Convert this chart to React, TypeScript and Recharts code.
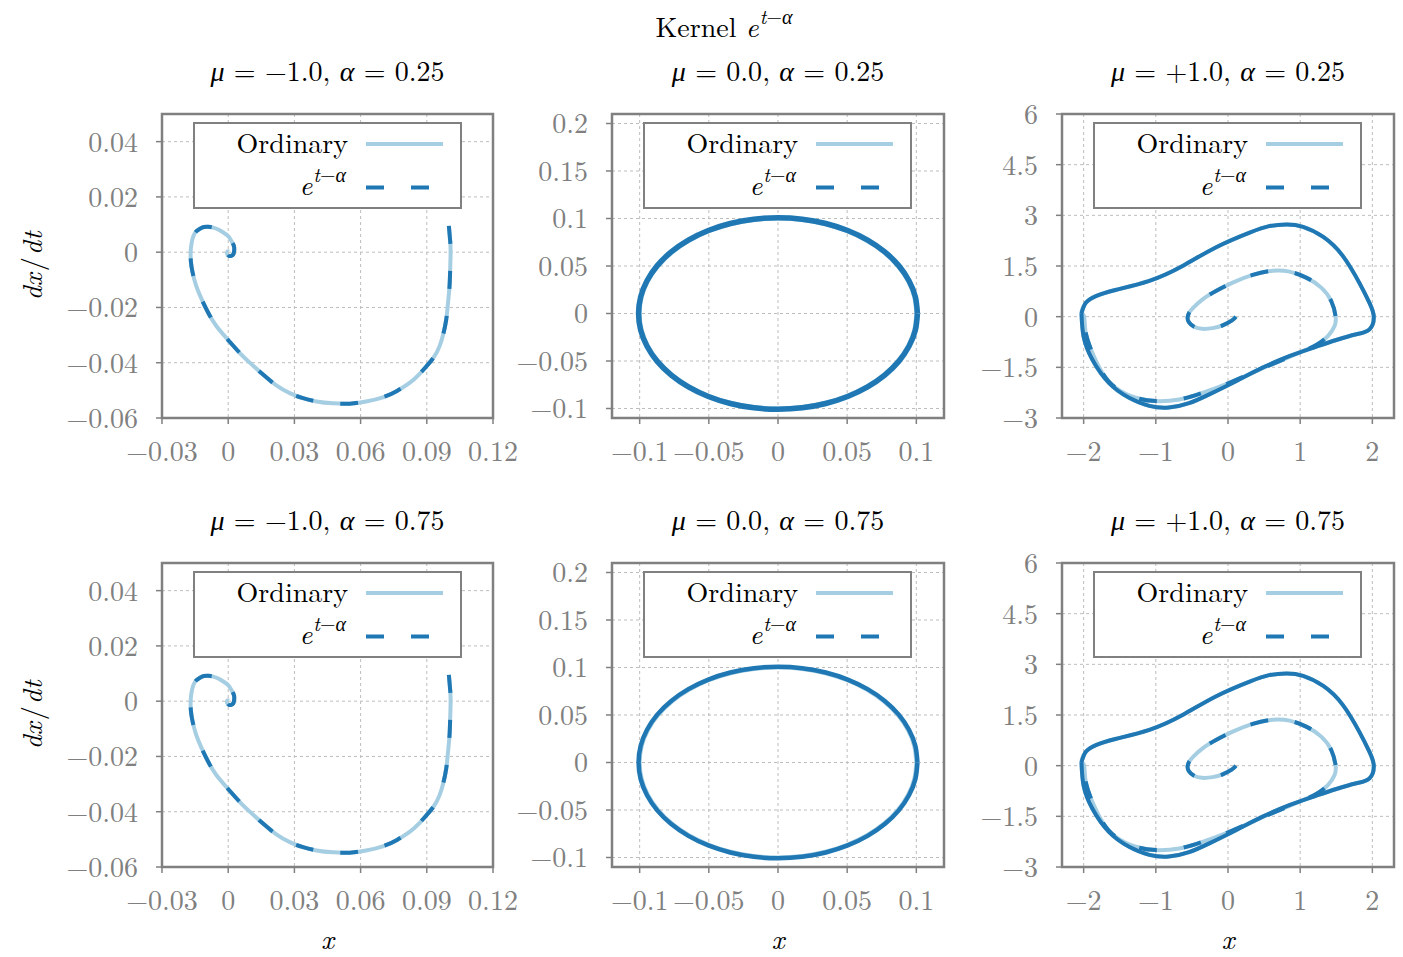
import { LineChart, Line, XAxis, YAxis, CartesianGrid, ReferenceArea } from 'recharts'

const LIGHT = '#a6cee3'
const DARK = '#1f78b4'
const GRAY = '#808080'
const FONT = '"Latin Modern Roman", "CMU Serif", "Liberation Serif", serif'

type Pt = [number, number]

// tick values per column
const p1XTicks = [-0.03, 0, 0.03, 0.06, 0.09, 0.12]
const p1YTicks = [-0.06, -0.04, -0.02, 0, 0.02, 0.04]
const p2XTicks = [-0.1, -0.05, 0, 0.05, 0.1]
const p2YTicks = [-0.1, -0.05, 0, 0.05, 0.1, 0.15, 0.2]
const p3XTicks = [-2, -1, 0, 1, 2]
const p3YTicks = [-3, -1.5, 0, 1.5, 3, 4.5, 6]

const muLabels = ['−1.0', '0.0', '+1.0']
const alphaLabels = ['0.25', '0.75']

// mu = -1: damped spiral into the origin (both curves overlap)
const dampedPath: Pt[] = [
  [0.1, 0.0095], [0.1006, 0.004], [0.1008, -0.0002], [0.1006, -0.006], [0.1003, -0.0123],
  [0.0996, -0.0185], [0.0988, -0.0244], [0.0975, -0.0295], [0.0958, -0.034], [0.0932, -0.038],
  [0.0898, -0.0413], [0.0862, -0.0445], [0.0822, -0.0473], [0.0765, -0.0502], [0.0701, -0.0525],
  [0.0625, -0.054], [0.0551, -0.0548], [0.0475, -0.0547], [0.04, -0.054], [0.0339, -0.0528],
  [0.0279, -0.051], [0.0215, -0.048], [0.0158, -0.0443], [0.0105, -0.0405], [0.0053, -0.0365],
  [0.0, -0.0318], [-0.0053, -0.0268], [-0.009, -0.022], [-0.012, -0.0171], [-0.0145, -0.0122],
  [-0.0161, -0.0075], [-0.0169, -0.0035], [-0.017, 0.0004], [-0.0166, 0.0032], [-0.0158, 0.0058],
  [-0.0145, 0.0075], [-0.0128, 0.0085], [-0.011, 0.0091], [-0.009, 0.0092], [-0.0068, 0.0089],
  [-0.0045, 0.0082], [-0.0022, 0.0071], [0.0, 0.0058], [0.0015, 0.004], [0.0026, 0.0022],
  [0.0027, 0.0005], [0.0023, -0.0008], [0.0014, -0.0013], [0.0005, -0.0014], [-0.0003, -0.0009],
  [-0.0006, -0.0002], [-0.0002, 0.0003], [0.0002, 0.0002],
]

// mu = 0: closed orbit
const orbitOrdinary: Pt[] = [
  [0.1, 0], [0.0985, -0.0174], [0.094, -0.0342], [0.0866, -0.05], [0.0766, -0.0643], [0.0643, -0.0766],
  [0.05, -0.0866], [0.0342, -0.094], [0.0174, -0.0985], [0, -0.1], [-0.0174, -0.0985], [-0.0342, -0.094],
  [-0.05, -0.0866], [-0.0643, -0.0766], [-0.0766, -0.0643], [-0.0866, -0.05], [-0.094, -0.0342], [-0.0985, -0.0174],
  [-0.1, 0], [-0.0985, 0.0174], [-0.094, 0.0342], [-0.0866, 0.05], [-0.0766, 0.0643], [-0.0643, 0.0766],
  [-0.05, 0.0866], [-0.0342, 0.094], [-0.0174, 0.0985], [0, 0.1], [0.0174, 0.0985], [0.0342, 0.094],
  [0.05, 0.0866], [0.0643, 0.0766], [0.0766, 0.0643], [0.0866, 0.05], [0.094, 0.0342], [0.0985, 0.0174],
  [0.1, 0],
]
const orbitKernel: Pt[] = [
  [0.1008, 0], [0.0993, -0.0175], [0.0947, -0.0345], [0.0873, -0.0504], [0.0772, -0.0648], [0.0648, -0.0772],
  [0.0504, -0.0873], [0.0345, -0.0947], [0.0175, -0.0993], [0, -0.1008], [-0.0175, -0.0993], [-0.0345, -0.0947],
  [-0.0504, -0.0873], [-0.0648, -0.0772], [-0.0772, -0.0648], [-0.0873, -0.0504], [-0.0947, -0.0345], [-0.0993, -0.0175],
  [-0.1008, 0], [-0.0993, 0.0175], [-0.0947, 0.0345], [-0.0873, 0.0504], [-0.0772, 0.0648], [-0.0648, 0.0772],
  [-0.0504, 0.0873], [-0.0345, 0.0947], [-0.0175, 0.0993], [0, 0.1008], [0.0175, 0.0993], [0.0345, 0.0947],
  [0.0504, 0.0873], [0.0648, 0.0772], [0.0772, 0.0648], [0.0873, 0.0504], [0.0947, 0.0345], [0.0993, 0.0175],
  [0.1008, 0],
]

// mu = +1: spiral out of the origin, then the limit cycle
const vdpSpiral: Pt[] = [
  [0.11, 0.0], [0.05, -0.12], [-0.074, -0.257], [-0.213, -0.34], [-0.36, -0.36], [-0.47, -0.3],
  [-0.54, -0.17], [-0.56, -0.02], [-0.535, 0.13], [-0.48, 0.27], [-0.352, 0.514], [-0.167, 0.761],
  [0.065, 1.008], [0.343, 1.235], [0.62, 1.36], [0.852, 1.334], [1.083, 1.156], [1.292, 0.86],
  [1.43, 0.464], [1.49, 0.02], [1.477, -0.277], [1.384, -0.573], [1.222, -0.84], [0.99, -1.067],
  [0.713, -1.314], [0.389, -1.611], [0.019, -1.957], [-0.352, -2.253], [-0.676, -2.451], [-1.0, -2.5],
  [-1.278, -2.4], [-1.556, -2.105], [-1.741, -1.66], [-1.88, -1.067], [-1.972, -0.474], [-1.995, 0.02],
]
const vdpCycle: Pt[] = [
  [-2.03, 0.1], [-1.97, 0.41], [-1.83, 0.61], [-1.56, 0.79], [-1.09, 1.06], [-0.63, 1.5],
  [-0.17, 2.05], [0.3, 2.49], [0.57, 2.68], [0.81, 2.73], [1.04, 2.66], [1.32, 2.36],
  [1.59, 1.8], [1.82, 1.0], [1.96, 0.41], [2.02, 0.0], [1.96, -0.375], [1.78, -0.52],
  [1.5, -0.69], [1.18, -0.92], [0.85, -1.17], [0.48, -1.51], [0.11, -1.91], [-0.26, -2.3],
  [-0.54, -2.56], [-0.82, -2.69], [-1.09, -2.64], [-1.37, -2.4], [-1.65, -1.96], [-1.88, -1.27],
  [-2.0, -0.6], [-2.03, 0.1],
]

const toPts = (a: Pt[]) => a.map(([x, y]) => ({ x, y }))
const fmt = (v: number) => (v < 0 ? '−' + String(-v) : String(v))

const colLeft = [162, 612, 1062]
const colWidth = [331, 332, 332]
const rowTop = [114, 563]
const PLOT_H = 304
const AXIS_W = 160
const AXIS_H = 60
const PAD_T = 30
const PAD_R = 40

interface Series {
  pts: Pt[]
  color: string
  dash?: string
  width?: number
}

interface PanelProps {
  col: number
  row: number
  xDomain: [number, number]
  yDomain: [number, number]
  xTicks: number[]
  yTicks: number[]
  series: Series[]
}

const textStyle = { fontFamily: FONT, fontSize: 28, lineHeight: '32px', color: '#000', whiteSpace: 'nowrap' as const }

function Expo({ size }: { size: number }) {
  return (
    <>
      <i>e</i>
      <span style={{ fontSize: size, position: 'relative', top: -13, marginLeft: 1 }}>
        <i>t</i>−<i>α</i>
      </span>
    </>
  )
}

function PanelLegend({ left, top }: { left: number; top: number }) {
  return (
    <div
      style={{
        position: 'absolute', left, top, width: 269, height: 87, boxSizing: 'border-box',
        border: `2.5px solid ${GRAY}`, background: '#fff',
      }}
    >
      <div style={{ ...textStyle, position: 'absolute', right: 112, top: 1 }}>Ordinary</div>
      <div style={{ ...textStyle, position: 'absolute', right: 114, top: 43 }}>
        <Expo size={20} />
      </div>
      <svg style={{ position: 'absolute', left: 171, top: 0 }} width={82} height={82}>
        <line x1={0} x2={77} y1={20} y2={20} stroke={LIGHT} strokeWidth={4} />
        <line x1={0} x2={77} y1={63.5} y2={63.5} stroke={DARK} strokeWidth={4} strokeDasharray="18 27" />
      </svg>
    </div>
  )
}

function Panel({ col, row, xDomain, yDomain, xTicks, yTicks, series }: PanelProps) {
  const left = colLeft[col]
  const top = rowTop[row]
  const w = colWidth[col]
  const tick = { fill: GRAY, fontSize: 28, fontFamily: FONT }
  return (
    <>
      <div style={{ position: 'absolute', left: left - AXIS_W, top: top - PAD_T }}>
        <LineChart
          width={AXIS_W + w + PAD_R}
          height={PAD_T + PLOT_H + AXIS_H}
          margin={{ top: PAD_T, right: PAD_R, bottom: 0, left: 0 }}
        >
          <CartesianGrid stroke="#bdbdbd" strokeDasharray="3 3" />
          <XAxis
            dataKey="x"
            type="number"
            domain={xDomain}
            ticks={xTicks}
            allowDataOverflow
            tickFormatter={fmt}
            tick={tick}
            axisLine={false}
            tickLine={{ stroke: GRAY, strokeWidth: 1.5 }}
            tickSize={6}
            tickMargin={17}
            height={AXIS_H}
            interval={0}
          />
          <YAxis
            dataKey="y"
            type="number"
            domain={yDomain}
            ticks={yTicks}
            allowDataOverflow
            tickFormatter={fmt}
            tick={tick}
            axisLine={false}
            tickLine={{ stroke: GRAY, strokeWidth: 1.5 }}
            tickSize={6}
            tickMargin={18}
            width={AXIS_W}
            interval={0}
          />
          {series.map((s, i) => (
            <Line
              key={i}
              data={toPts(s.pts)}
              dataKey="y"
              type="natural"
              stroke={s.color}
              strokeWidth={s.width ?? 4}
              strokeDasharray={s.dash}
              strokeLinejoin="round"
              dot={false}
              activeDot={false}
              legendType="none"
              isAnimationActive={false}
            />
          ))}
          <ReferenceArea
            x1={xDomain[0]}
            x2={xDomain[1]}
            y1={yDomain[0]}
            y2={yDomain[1]}
            fill="none"
            fillOpacity={0}
            stroke={GRAY}
            strokeWidth={2.5}
            ifOverflow="visible"
          />
        </LineChart>
      </div>
      <PanelLegend left={left + 31} top={top + 8} />
      <div style={{ ...textStyle, position: 'absolute', left, width: w, textAlign: 'center', top: top - 61 }}>
        <i>μ</i> = {muLabels[col]}, <i>α</i> = {alphaLabels[row]}
      </div>
      {col === 0 && (
        <div
          style={{
            ...textStyle, position: 'absolute', left: 30, top: top + PLOT_H / 2,
            transform: 'translate(-50%, -50%) rotate(-90deg)',
          }}
        >
          <i>dx</i>
          <span style={{ margin: '0 2px' }}>/</span>
          <i>dt</i>
        </div>
      )}
      {row === 1 && (
        <div style={{ ...textStyle, position: 'absolute', left, width: w, textAlign: 'center', top: 921 }}>
          <i>x</i>
        </div>
      )}
    </>
  )
}

export default function App() {
  const rows = [0, 1]
  return (
    <div style={{ position: 'absolute', left: 0, top: 0, width: 1403, height: 957, background: '#fff' }}>
      <div style={{ ...textStyle, position: 'absolute', left: 524, width: 400, textAlign: 'center', top: 9 }}>
        Kernel <Expo size={20} />
      </div>
      {rows.map((r) => (
        <div key={r}>
          <Panel
            col={0}
            row={r}
            xDomain={[-0.03, 0.12]}
            yDomain={[-0.06, 0.05]}
            xTicks={p1XTicks}
            yTicks={p1YTicks}
            series={[
              { pts: dampedPath, color: LIGHT },
              { pts: dampedPath, color: DARK, dash: '18 27' },
            ]}
          />
          <Panel
            col={1}
            row={r}
            xDomain={[-0.12, 0.12]}
            yDomain={[-0.11, 0.21]}
            xTicks={p2XTicks}
            yTicks={p2YTicks}
            series={[
              { pts: orbitOrdinary, color: LIGHT },
              { pts: orbitKernel, color: DARK, width: r === 0 ? 5.5 : 4.5 },
            ]}
          />
          <Panel
            col={2}
            row={r}
            xDomain={[-2.3, 2.3]}
            yDomain={[-3, 6]}
            xTicks={p3XTicks}
            yTicks={p3YTicks}
            series={[
              { pts: [...vdpSpiral, ...vdpCycle], color: LIGHT },
              { pts: vdpSpiral, color: DARK, dash: '18 27' },
              { pts: vdpCycle, color: DARK },
            ]}
          />
        </div>
      ))}
    </div>
  )
}
